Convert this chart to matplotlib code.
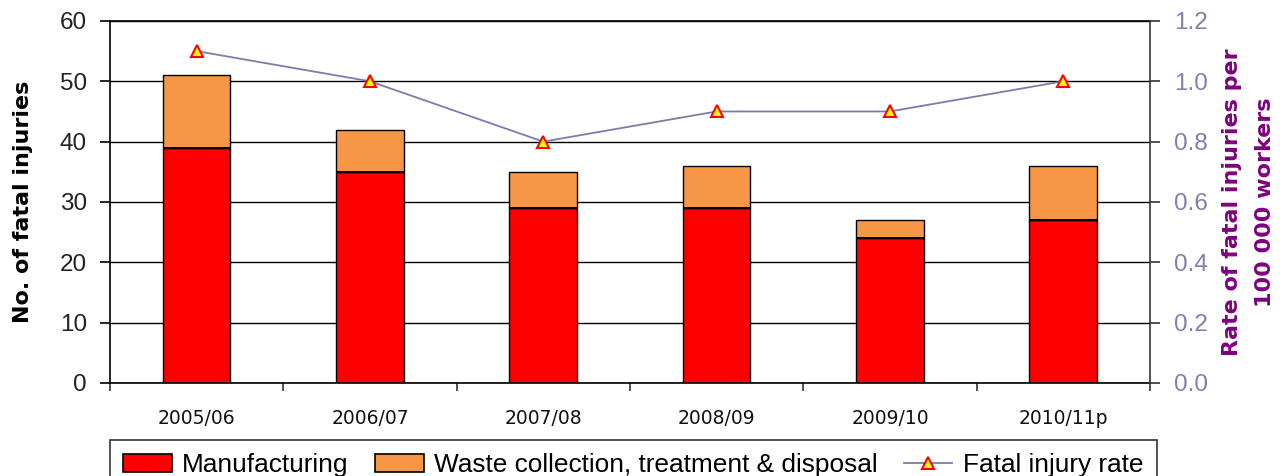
import matplotlib
matplotlib.use("Agg")
import matplotlib.pyplot as plt
import numpy as np
from matplotlib.lines import Line2D
from matplotlib.patches import Patch

categories = ["2005/06", "2006/07", "2007/08", "2008/09", "2009/10", "2010/11p"]
manufacturing = [39, 35, 29, 29, 24, 27]
waste = [12, 7, 6, 7, 3, 9]
rate = [1.1, 1.0, 0.8, 0.9, 0.9, 1.0]

fig = plt.figure(figsize=(12.86, 4.76), dpi=100)
ax = fig.add_axes([0.0855, 0.1954, 0.8087, 0.7606])
x = np.arange(len(categories))

ax.set_xlim(-0.5, len(categories) - 0.5)
ax.set_ylim(0, 60)
ax.set_yticks(range(0, 61, 10))
ax.yaxis.grid(True, color="black", linewidth=1.0)
ax.set_axisbelow(True)

bw = 0.39
ax.bar(x, manufacturing, bw, color="#ff0000", edgecolor="black", linewidth=1.0, zorder=2)
ax.bar(x, waste, bw, bottom=manufacturing, color="#f79646", edgecolor="black", linewidth=1.0, zorder=2)
# separator line between segments
ax.bar(x, [0.35]*len(x), bw, bottom=np.array(manufacturing) - 0.175, color="black", linewidth=0, zorder=3)

ax.set_xticks(x)
ax.set_xticklabels(categories, fontsize=13.5, family="DejaVu Sans", color="#111111")
ax.tick_params(axis="x", length=0, pad=19)
ax.set_xticks(np.arange(-0.5, len(categories), 1.0), minor=True)
ax.tick_params(axis="x", which="minor", length=6, width=1.2, color="#333333", direction="out")
ax.tick_params(axis="y", length=7.5, width=1.2, direction="out", labelsize=17.5, pad=9)
for lbl in ax.get_yticklabels():
    lbl.set_family("Liberation Sans")
    lbl.set_color("#222222")

for s in ["left", "top", "bottom"]:
    ax.spines[s].set_color("black")
    ax.spines[s].set_linewidth(1.2)
ax.spines["right"].set_visible(False)

ax.set_ylabel("No. of fatal injuries", fontsize=16, fontweight="bold", family="DejaVu Sans")
ax.yaxis.set_label_coords(-0.074, 0.5)

ax2 = ax.twinx()
ax2.set_ylim(0, 1.2)
ax2.set_yticks(np.arange(0, 1.21, 0.2))
ax2.set_yticklabels([f"{v:.1f}" for v in np.arange(0, 1.21, 0.2)], fontsize=17.5, family="Liberation Sans", color="#8080b0")
ax2.tick_params(axis="y", length=7.5, width=1.2, direction="out", color="#333333", pad=10)
ax2.spines["right"].set_color("#333333")
ax2.spines["right"].set_linewidth(1.2)
for s in ["left", "top", "bottom"]:
    ax2.spines[s].set_visible(False)
ax2.plot(x, rate, color="#7b7bad", linewidth=1.3, marker="^", markersize=9,
         markerfacecolor="#ffff00", markeredgecolor="#ff0000", markeredgewidth=1.5, zorder=4)
ax2.set_ylabel("Rate of fatal injuries per\n100 000 workers", fontsize=16, fontweight="bold",
               family="DejaVu Sans", color="#800080", linespacing=1.8)
ax2.yaxis.set_label_coords(1.069, 0.5)

handles = [
    Patch(facecolor="#ff0000", edgecolor="black", linewidth=1.2),
    Patch(facecolor="#f79646", edgecolor="black", linewidth=1.2),
    Line2D([0], [0], color="#7b7bad", linewidth=1.3, marker="^", markersize=9,
           markerfacecolor="#ffff00", markeredgecolor="#ff0000", markeredgewidth=1.5),
]
labels = ["Manufacturing", "Waste collection, treatment & disposal", "Fatal injury rate"]
leg = fig.legend(handles, labels, loc="upper left", bbox_to_anchor=(110/1286, 1 - 440/476),
                 ncol=3, frameon=True, fancybox=False, edgecolor="black",
                 prop={"family": "Liberation Sans", "size": 18.9}, handlelength=1.85,
                 handleheight=0.65, handletextpad=0.4, borderpad=0.5, columnspacing=1.0,
                 borderaxespad=0)
leg.get_frame().set_linewidth(1.2)

fig.savefig("out.png", dpi=100)
